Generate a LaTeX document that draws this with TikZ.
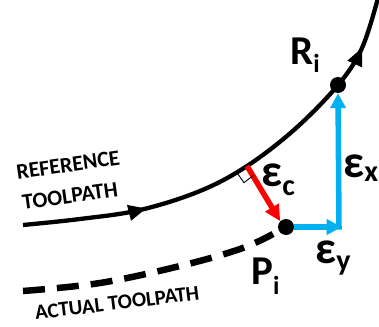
\documentclass[tikz,border=0pt]{standalone}
\usepackage{fontspec}
\setmainfont{Carlito}
\usetikzlibrary{arrows.meta,decorations.markings,calc}
\definecolor{skyb}{HTML}{00B0F0}
\definecolor{redd}{HTML}{FF0000}
\tikzset{
  dot/.style={circle,fill=black,inner sep=0pt,minimum size=16pt},
  path/.style={line width=4.3pt},
  lbl/.style={font=\bfseries\fontsize{22}{24}\selectfont,inner sep=0pt},
  sym/.style={inner sep=0pt,anchor=base west,font=\bfseries}
}
\begin{document}
\begin{tikzpicture}[x=1pt,y=-1pt]
\useasboundingbox (0,0) rectangle (379,326);
% reference toolpath
\draw[path,postaction={decorate},decoration={markings,
   mark=at position 0.275 with {\arrow{Triangle[length=18pt,width=15pt]}},
   mark=at position 0.885 with {\arrow{Triangle[length=18pt,width=15pt]}}}]
  plot[smooth,tension=0.6] coordinates {(23,225) (80,219) (140,210) (200,191) (247,166) (295,129) (338,85) (362,48) (378,-2)};
% actual toolpath (dashed)
\draw[line width=6.5pt,dash pattern=on 22pt off 12pt]
  plot[smooth,tension=0.6] coordinates {(23,291) (100,283) (180,266) (240,249) (273,234)};
% points
\node[dot] (R) at (338,85) {};
\node[dot] (P) at (286,227) {};
\coordinate (C) at (339,227);
\coordinate (F) at (247,166);
% blue components
\draw[skyb,line width=5.5pt,-{Triangle[length=15pt,width=15pt]}] (P) -- ([xshift=2.7pt]C);
\draw[skyb,line width=5.5pt,-{Triangle[length=15pt,width=15pt]},shorten <=-2.7pt] (C) -- (R.south);
% red normal error
\draw[redd,line width=5.5pt,-{Triangle[length=16pt,width=15pt]}] (F) -- (P.north west);
% right-angle marker
\draw[line width=0.9pt] ($(F)+(-9.9,6.8)$) -- ++(6.8,9.9) -- ($(F)+(6.46,9.4)$);
% labels
\node[sym] (Rl) at (290,65) {\fontsize{41}{41}\selectfont R\raisebox{-8pt}{\fontsize{26}{26}\selectfont i}};
\node[sym] (Pl) at (251,284) {\fontsize{41}{41}\selectfont P\raisebox{-10pt}{\fontsize{26}{26}\selectfont i}};
\node[sym] (ex) at (343,177) {\fontsize{46}{46}\selectfont ε\raisebox{-4pt}{\fontsize{30}{30}\selectfont x}};
\node[sym] (ec) at (261,186) {\fontsize{46}{46}\selectfont ε\raisebox{-9pt}{\fontsize{30}{30}\selectfont c}};
\node[sym] (ey) at (315,263) {\fontsize{46}{46}\selectfont ε\raisebox{-7pt}{\fontsize{30}{30}\selectfont y}};
\node[lbl,rotate=8] (t1) at (68,165) {REFERENCE};
\node[lbl,rotate=8] (t2) at (70,196) {TOOLPATH};
\node[lbl,rotate=7,font=\bfseries\fontsize{21}{23}\selectfont] (t3) at (117,303) {ACTUAL TOOLPATH};
\end{tikzpicture}
\end{document}
